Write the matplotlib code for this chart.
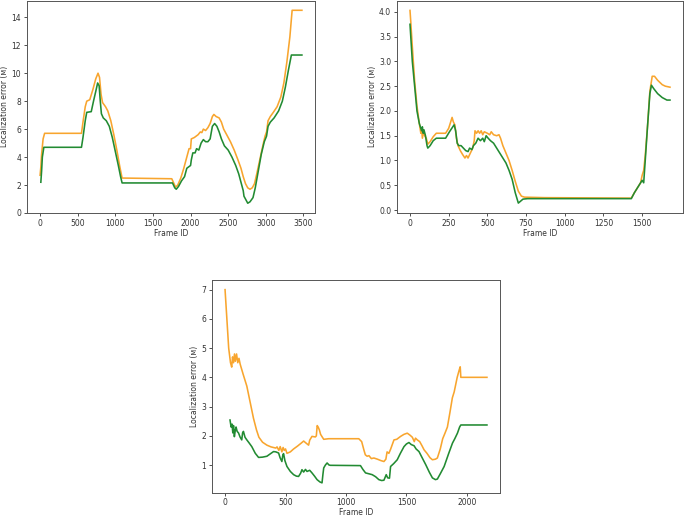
import matplotlib
matplotlib.use("Agg")
import matplotlib.pyplot as plt

# ---------------- data: panel 1 ----------------
p1_orange_x = [0, 10, 20, 40, 60, 550, 570, 600, 620, 660, 700, 740, 770, 790, 810, 830, 870, 900, 940, 980,
               1020, 1060, 1090, 1750, 1780, 1800, 1830, 1870, 1910, 1950, 1980, 2000, 2010, 2050, 2100, 2130,
               2150, 2170, 2200, 2230, 2260, 2290, 2310, 2340, 2380, 2410, 2440, 2480, 2530, 2580, 2630, 2670,
               2700, 2730, 2760, 2790, 2820, 2850, 2880, 2920, 2960, 2990, 3010, 3030, 3060, 3100, 3150, 3200,
               3240, 3280, 3320, 3350, 3480]
p1_orange_y = [2.7, 3.3, 4.2, 5.3, 5.7, 5.7, 6.5, 7.6, 8.0, 8.1, 8.8, 9.6, 10.0, 9.7, 8.5, 7.9, 7.6, 7.3, 6.6, 5.6,
               4.5, 3.3, 2.5, 2.45, 2.1, 1.85, 2.0, 2.5, 3.2, 4.0, 4.6, 4.6, 5.3, 5.4, 5.6, 5.8,
               5.75, 6.0, 5.9, 6.1, 6.4, 6.9, 7.05, 6.9, 6.8, 6.5, 6.0, 5.6, 5.1, 4.5, 3.8, 3.2,
               2.6, 2.1, 1.8, 1.7, 1.8, 2.1, 2.8, 3.8, 4.8, 5.5, 5.8, 6.6, 6.9, 7.2, 7.6, 8.3,
               9.3, 10.8, 12.6, 14.5, 14.5]
p1_green_x = [10, 20, 30, 50, 550, 570, 600, 620, 680, 710, 740, 765, 785, 800, 815, 840, 880, 920, 960, 1000,
              1040, 1070, 1090, 1760, 1790, 1810, 1840, 1880, 1920, 1950, 2000, 2010, 2030, 2060, 2080, 2110,
              2140, 2170, 2200, 2230, 2260, 2290, 2320, 2350, 2380, 2410, 2450, 2500, 2550, 2600, 2640, 2680,
              2700, 2710, 2730, 2760, 2790, 2830, 2860, 2900, 2940, 2980, 3010, 3030, 3060, 3110, 3170, 3220,
              3260, 3300, 3340, 3480]
p1_green_y = [2.2, 3.0, 4.0, 4.7, 4.7, 5.4, 6.6, 7.2, 7.25, 8.0, 8.7, 9.3, 9.1, 8.0, 7.1, 6.8, 6.6, 6.2, 5.4, 4.4,
              3.4, 2.6, 2.15, 2.15, 1.8, 1.7, 1.9, 2.3, 2.6, 3.2, 3.4, 3.8, 4.3, 4.3, 4.6, 4.5,
              5.0, 5.25, 5.1, 5.1, 5.3, 6.2, 6.4, 6.2, 5.8, 5.3, 4.8, 4.5, 4.0, 3.4, 2.8, 2.0,
              1.6, 1.2, 1.0, 0.7, 0.8, 1.1, 1.8, 3.0, 4.2, 5.1, 5.5, 6.2, 6.5, 6.8, 7.3, 8.0,
              9.0, 10.2, 11.3, 11.3]

# ---------------- data: panel 2 ----------------
p2_orange_x = [0, 5, 15, 30, 45, 60, 70, 75, 80, 88, 95, 105, 115, 130, 150, 170, 230, 250, 265, 272, 280, 290,
               300, 310, 325, 340, 355, 365, 375, 390, 405, 415, 420, 430, 440, 450, 460, 470, 480, 500, 515,
               525, 540, 560, 575, 585, 600, 620, 640, 660, 680, 700, 720, 740, 870, 1430, 1450, 1470, 1490,
               1500, 1510, 1520, 1535, 1550, 1565, 1580, 1600, 1630, 1650, 1680]
p2_orange_y = [4.03, 3.8, 3.3, 2.6, 2.1, 1.75, 1.55, 1.65, 1.45, 1.6, 1.5, 1.45, 1.33, 1.38, 1.48, 1.55, 1.55, 1.65,
               1.8, 1.87, 1.78, 1.72, 1.45, 1.3, 1.2, 1.12, 1.05, 1.1, 1.05, 1.15, 1.25, 1.4, 1.6, 1.55, 1.6,
               1.55, 1.6, 1.52, 1.58, 1.55, 1.52, 1.58, 1.52, 1.5, 1.52, 1.45, 1.3, 1.15, 1.0, 0.8, 0.58,
               0.38, 0.28, 0.26, 0.25, 0.24, 0.35, 0.45, 0.55, 0.7, 0.8, 1.1, 1.7, 2.4, 2.7, 2.7, 2.62, 2.53,
               2.5, 2.48]
p2_green_x = [0, 5, 15, 30, 45, 60, 75, 80, 85, 90, 100, 110, 115, 130, 150, 170, 230, 255, 270, 285, 295, 305,
              315, 330, 345, 360, 375, 385, 400, 410, 425, 440, 455, 470, 480, 492, 505, 520, 540, 560, 580,
              600, 620, 640, 660, 680, 700, 715, 730, 760, 1430, 1450, 1470, 1490, 1500, 1510, 1520, 1535,
              1550, 1560, 1575, 1600, 1630, 1660, 1680]
p2_green_y = [3.75, 3.5, 3.0, 2.5, 2.0, 1.75, 1.6, 1.68, 1.55, 1.62, 1.5, 1.3, 1.25, 1.3, 1.4, 1.45, 1.45, 1.58,
              1.65, 1.72, 1.6, 1.35, 1.3, 1.3, 1.25, 1.2, 1.18, 1.25, 1.22, 1.3, 1.35, 1.45, 1.4, 1.45, 1.38,
              1.5, 1.45, 1.4, 1.35, 1.25, 1.15, 1.05, 0.95, 0.8, 0.62, 0.35, 0.14, 0.18, 0.22, 0.23, 0.23,
              0.35, 0.45, 0.55, 0.6, 0.55, 1.0, 1.7, 2.35, 2.52, 2.45, 2.35, 2.27, 2.22, 2.22]

# ---------------- data: panel 3 ----------------
p3_orange_x = [0, 15, 30, 45, 55, 62, 70, 78, 85, 95, 105, 115, 125, 150, 180, 210, 235, 260, 280, 310, 346, 380,
               420, 430, 445, 456, 470, 480, 490, 500, 512, 540, 567, 600, 630, 650, 670, 691, 700, 719, 747,
               755, 762, 770, 780, 790, 805, 816, 857, 1106, 1130, 1148, 1160, 1175, 1190, 1210, 1231, 1260,
               1290, 1314, 1330, 1340, 1355, 1370, 1397, 1420, 1452, 1480, 1507, 1530, 1549, 1565, 1575, 1590,
               1610, 1630, 1646, 1670, 1695, 1715, 1740, 1756, 1780, 1800, 1820, 1839, 1860, 1880, 1895, 1905,
               1920, 1936, 1945, 1950, 1960, 2166]
p3_orange_y = [7.0, 6.0, 5.0, 4.5, 4.35, 4.7, 4.5, 4.8, 4.55, 4.8, 4.5, 4.65, 4.45, 4.1, 3.7, 3.1, 2.6, 2.2, 1.95,
               1.78, 1.68, 1.62, 1.58, 1.62, 1.5, 1.63, 1.45, 1.6, 1.5, 1.55, 1.4, 1.45, 1.55, 1.65, 1.75, 1.82,
               1.75, 1.68, 1.85, 1.98, 1.96, 2.0, 2.35, 2.3, 2.2, 2.05, 1.95, 1.88, 1.9, 1.9, 1.8, 1.52, 1.35,
               1.3, 1.32, 1.22, 1.24, 1.2, 1.15, 1.12, 1.2, 1.45, 1.4, 1.55, 1.86, 1.88, 1.98, 2.05, 2.09, 2.02,
               1.95, 1.8, 1.92, 1.86, 1.8, 1.65, 1.52, 1.4, 1.25, 1.18, 1.2, 1.24, 1.55, 1.9, 2.1, 2.3, 2.8,
               3.3, 3.5, 3.7, 4.0, 4.24, 4.36, 4.0, 4.0, 4.0]
p3_green_x = [41, 50, 58, 64, 70, 77, 85, 91, 100, 111, 125, 138, 145, 152, 165, 180, 200, 221, 250, 277, 310, 346,
              380, 401, 420, 443, 455, 470, 478, 484, 495, 512, 540, 567, 590, 608, 625, 636, 650, 665, 678,
              700, 719, 740, 761, 785, 802, 810, 816, 830, 844, 860, 871, 1120, 1140, 1162, 1190, 1217, 1245,
              1272, 1295, 1314, 1333, 1345, 1360, 1369, 1395, 1424, 1450, 1480, 1500, 1521, 1540, 1563, 1580,
              1604, 1630, 1660, 1690, 1715, 1740, 1756, 1780, 1812, 1850, 1881, 1900, 1922, 1940, 1950, 2166]
p3_green_y = [2.54, 2.3, 2.4, 2.1, 2.35, 1.97, 2.2, 2.3, 2.15, 2.1, 1.95, 1.86, 2.1, 2.15, 1.95, 1.86, 1.75, 1.63,
              1.4, 1.26, 1.27, 1.3, 1.4, 1.46, 1.45, 1.41, 1.25, 1.12, 1.35, 1.39, 1.15, 0.95, 0.78, 0.67, 0.62,
              0.61, 0.72, 0.84, 0.76, 0.85, 0.78, 0.82, 0.73, 0.62, 0.5, 0.42, 0.39, 0.7, 0.9, 1.0, 1.07, 1.0,
              0.99, 0.98, 0.85, 0.73, 0.7, 0.67, 0.6, 0.5, 0.47, 0.48, 0.67, 0.56, 0.55, 0.95, 1.05, 1.18, 1.4,
              1.63, 1.72, 1.77, 1.7, 1.66, 1.55, 1.46, 1.25, 1.01, 0.75, 0.56, 0.5, 0.52, 0.7, 0.95, 1.4, 1.75,
              1.9, 2.09, 2.3, 2.37, 2.37]

p1_xticks = [0, 500, 1000, 1500, 2000, 2500, 3000, 3500]
p1_yticks = [0, 2, 4, 6, 8, 10, 12, 14]
p2_xticks = [0, 250, 500, 750, 1000, 1250, 1500]
p2_yticks = [0.0, 0.5, 1.0, 1.5, 2.0, 2.5, 3.0, 3.5, 4.0]
p3_xticks = [0, 500, 1000, 1500, 2000]
p3_yticks = [1, 2, 3, 4, 5, 6, 7]

XLABEL = "Frame ID"
YLABEL = "Localization error (м)"

ORANGE = "#f8a52e"
GREEN = "#228b32"
FS = 5.5

plt.rcParams['font.family'] = ['DejaVu Sans']

W, H = 685, 517
fig = plt.figure(figsize=(W / 100, H / 100), dpi=100)


def px_axes(left, top, right, bottom):
    return fig.add_axes([left / W, 1 - bottom / H, (right - left) / W, (bottom - top) / H])


def style(ax, xt, yt, xlim, ylim, yfmt=None):
    ax.set_xticks(xt)
    ax.set_yticks(yt)
    if yfmt:
        ax.set_yticklabels([yfmt.format(v) for v in yt])
    ax.set_xlim(*xlim)
    ax.set_ylim(*ylim)
    ax.tick_params(labelsize=FS, length=2.2, width=0.6, pad=2.0, colors="#333333")
    for s in ax.spines.values():
        s.set_linewidth(0.7)
        s.set_color("#555555")
    ax.set_xlabel(XLABEL, fontsize=FS, labelpad=0.8, color="#333333")
    ax.set_ylabel(YLABEL, fontsize=FS, labelpad=1.8, color="#333333")


LW = 1.15

ax1 = px_axes(27, 0.5, 315, 213)
ax1.plot(p1_orange_x, p1_orange_y, color=ORANGE, lw=LW)
ax1.plot(p1_green_x, p1_green_y, color=GREEN, lw=LW)
style(ax1, p1_xticks, p1_yticks, (-174, 3654), (0, 15.2))

ax2 = px_axes(397, 0.5, 683, 213)
ax2.plot(p2_orange_x, p2_orange_y, color=ORANGE, lw=LW)
ax2.plot(p2_green_x, p2_green_y, color=GREEN, lw=LW)
style(ax2, p2_xticks, p2_yticks, (-84, 1764), (-0.06, 4.23), "{:.1f}")

ax3 = px_axes(212, 280, 500, 492.5)
ax3.plot(p3_orange_x, p3_orange_y, color=ORANGE, lw=LW)
ax3.plot(p3_green_x, p3_green_y, color=GREEN, lw=LW)
style(ax3, p3_xticks, p3_yticks, (-108, 2274), (0.06, 7.33))

fig.savefig("out.png", dpi=100)
